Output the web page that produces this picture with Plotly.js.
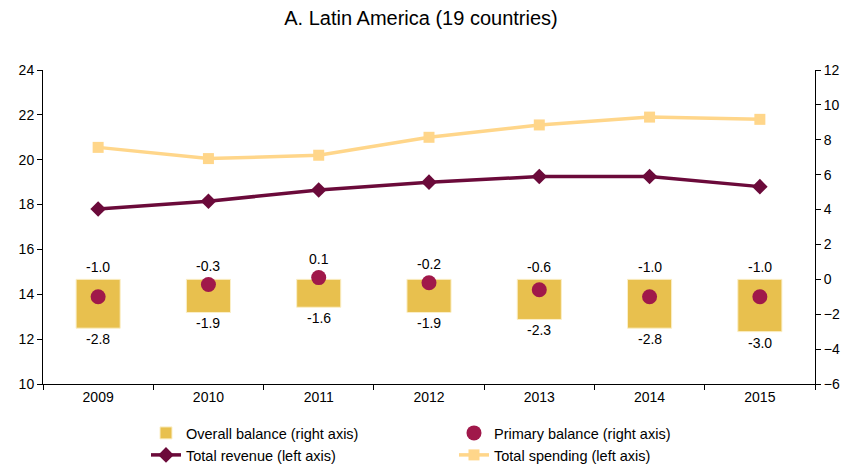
<!DOCTYPE html>
<html>
<head>
<meta charset="utf-8">
<script src="https://cdn.plot.ly/plotly-3.0.1.min.js"></script>
<style>html,body{margin:0;padding:0;background:#fff;}#chart{width:842px;height:466px;}</style>
</head>
<body>
<div id="chart"></div>
<script>
var years = ['2009', '2010', '2011', '2012', '2013', '2014', '2015'];
var overallBalance = [-2.8, -1.9, -1.6, -1.9, -2.3, -2.8, -3.0];
var primaryBalance = [-1.0, -0.3, 0.1, -0.2, -0.6, -1.0, -1.0];
var totalRevenue = [17.8, 18.15, 18.65, 19.0, 19.25, 19.25, 18.8];
var totalSpending = [20.55, 20.05, 20.2, 21.0, 21.55, 21.9, 21.8];

var FONT = 'Liberation Sans, Arial, sans-serif';

var traces = [
  {
    type: 'bar', x: years, y: overallBalance, yaxis: 'y2',
    name: 'Overall balance (right axis)', width: 0.4,
    marker: {color: '#E8C04E', line: {color: '#FBEFC8', width: 1}},
    legend: 'legend'
  },
  {
    type: 'scatter', mode: 'markers', x: years, y: primaryBalance, yaxis: 'y2',
    name: 'Primary balance (right axis)',
    marker: {color: '#A0184A', size: 15, symbol: 'circle'},
    legend: 'legend'
  },
  {
    type: 'scatter', mode: 'lines+markers', x: years, y: totalRevenue, yaxis: 'y',
    name: 'Total revenue (left axis)',
    line: {color: '#6B0A3A', width: 3.5},
    marker: {color: '#6B0A3A', size: 12, symbol: 'diamond'},
    legend: 'legend2'
  },
  {
    type: 'scatter', mode: 'lines+markers', x: years, y: totalSpending, yaxis: 'y',
    name: 'Total spending (left axis)',
    line: {color: '#FFD68A', width: 3.5},
    marker: {color: '#FFD68A', size: 11, symbol: 'square'},
    legend: 'legend2'
  }
];

var notes = [];
for (var i = 0; i < years.length; i++) {
  notes.push({
    x: i, y: Math.max(0, primaryBalance[i] + 0.4), xref: 'x', yref: 'y2',
    text: primaryBalance[i].toFixed(1), showarrow: false,
    xanchor: 'center', yanchor: 'bottom', yshift: 2,
    font: {family: FONT, size: 14, color: '#000'}
  });
  notes.push({
    x: i, y: overallBalance[i], xref: 'x', yref: 'y2',
    text: overallBalance[i].toFixed(1), showarrow: false,
    xanchor: 'center', yanchor: 'top', yshift: -1,
    font: {family: FONT, size: 14, color: '#000'}
  });
}

function axisCommon(extra) {
  var a = {
    showgrid: false, zeroline: false, showline: true, linecolor: '#000', linewidth: 1,
    ticks: 'outside', ticklen: 5, tickcolor: '#000',
    tickfont: {family: FONT, size: 14, color: '#000'}
  };
  for (var k in extra) a[k] = extra[k];
  return a;
}

var layout = {
  width: 842, height: 466,
  margin: {l: 43, r: 27, t: 70, b: 82, autoexpand: false},
  paper_bgcolor: '#fff', plot_bgcolor: '#fff',
  title: {text: 'A. Latin America (19 countries)', x: 0.5, xanchor: 'center',
          y: 0.962, yanchor: 'middle', yref: 'container',
          font: {family: FONT, size: 20, color: '#000'}},
  barmode: 'overlay',
  xaxis: axisCommon({type: 'category', tickson: 'boundaries', range: [-0.5, 6.5]}),
  yaxis: axisCommon({range: [10, 24], dtick: 2}),
  yaxis2: axisCommon({range: [-6, 12], dtick: 2, overlaying: 'y', side: 'right'}),
  showlegend: true,
  legend: {orientation: 'h', x: 0.1334, xanchor: 'left', y: -0.156, yanchor: 'middle',
           entrywidth: 263, entrywidthmode: 'pixels', font: {family: FONT, size: 14.5, color: '#000'},
           bgcolor: 'rgba(0,0,0,0)'},
  legend2: {orientation: 'h', x: 0.1334, xanchor: 'left', y: -0.226, yanchor: 'middle',
           entrywidth: 263, entrywidthmode: 'pixels', font: {family: FONT, size: 14.5, color: '#000'},
           bgcolor: 'rgba(0,0,0,0)'},
  annotations: notes
};

Plotly.newPlot('chart', traces, layout, {displayModeBar: false});
</script>
</body>
</html>
